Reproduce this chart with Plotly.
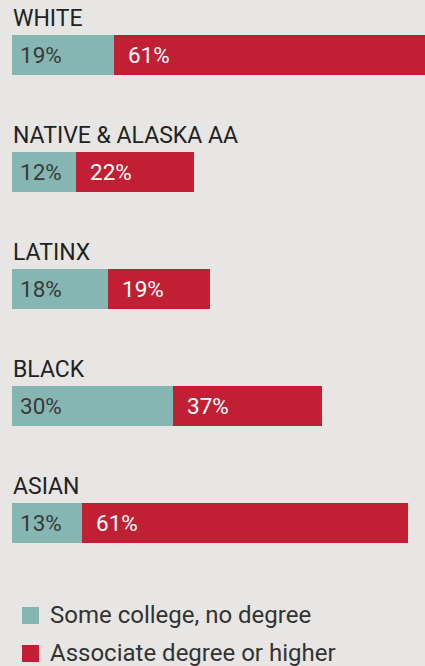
import plotly.graph_objects as go

# Data
categories = ["WHITE", "NATIVE & ALASKA AA", "LATINX", "BLACK", "ASIAN"]
some_college = [19, 12, 18, 30, 13]          # bar lengths (%)
associate_plus = [61, 22, 19, 28, 61]        # bar lengths as drawn (%)
some_college_labels = ["19%", "12%", "18%", "30%", "13%"]
associate_labels = ["61%", "22%", "19%", "37%", "61%"]
series_names = ["Some college, no degree", "Associate degree or higher"]

TEAL = "#86b6b2"
RED = "#c11f34"
BG = "#e8e6e4"
FONT = "Roboto"

W, H = 425, 666
L = 12

fig = go.Figure()
fig.add_trace(go.Bar(y=categories, x=some_college, orientation="h", marker=dict(color=TEAL, line=dict(width=0)),
                     width=0.342, name=series_names[0], hoverinfo="skip"))
fig.add_trace(go.Bar(y=categories, x=associate_plus, orientation="h", marker=dict(color=RED, line=dict(width=0)),
                     width=0.342, name=series_names[1], hoverinfo="skip"))

annotations = []
for i, cat in enumerate(categories):
    # category title above bar
    annotations.append(dict(x=0, y=cat, xref="x", yref="y", text=cat, showarrow=False,
                            xanchor="left", yanchor="middle", yshift=37, xshift=-1.5,
                            font=dict(family=FONT, size=23, color="#222222")))
    annotations.append(dict(x=0, y=cat, xref="x", yref="y", text=some_college_labels[i], showarrow=False,
                            xanchor="left", yanchor="middle", xshift=6,
                            font=dict(family=FONT, size=22.5, color="#3a3a3a")))
    annotations.append(dict(x=some_college[i], y=cat, xref="x", yref="y", text=associate_labels[i], showarrow=False,
                            xanchor="left", yanchor="middle", xshift=12,
                            font=dict(family=FONT, size=22.5, color="#ffffff")))

# manual legend
legend_rows = [(series_names[0], TEAL, 615.5), (series_names[1], RED, 653.5)]
shapes = []
for name, col, yc in legend_rows:
    shapes.append(dict(type="rect", xref="paper", yref="paper",
                       x0=(22 - L) / (W - L), x1=(39 - L) / (W - L),
                       y0=1 - (yc - 8.5) / H, y1=1 - (yc + 8.5) / H,
                       fillcolor=col, line=dict(width=0)))
    annotations.append(dict(x=(48 - L) / (W - L), y=1 - (yc - 0.5) / H, xref="paper", yref="paper",
                            text=name, showarrow=False, xanchor="left", yanchor="middle",
                            font=dict(family=FONT, size=24, color="#333333")))

fig.update_layout(
    width=W, height=H,
    margin=dict(l=L, r=0, t=0, b=0),
    paper_bgcolor=BG, plot_bgcolor=BG,
    barmode="stack", showlegend=False,
    xaxis=dict(range=[0, (W - L) / 5.35], visible=False, fixedrange=True),
    yaxis=dict(categoryorder="array", categoryarray=categories, type="category",
               range=[(H - 55) / 117, -55 / 117], visible=False, fixedrange=True),
    annotations=annotations, shapes=shapes,
    font=dict(family=FONT),
)

fig.write_html("out.html", config={"displayModeBar": False},
               post_script="document.body.style.margin='0';document.body.style.overflow='hidden';")
